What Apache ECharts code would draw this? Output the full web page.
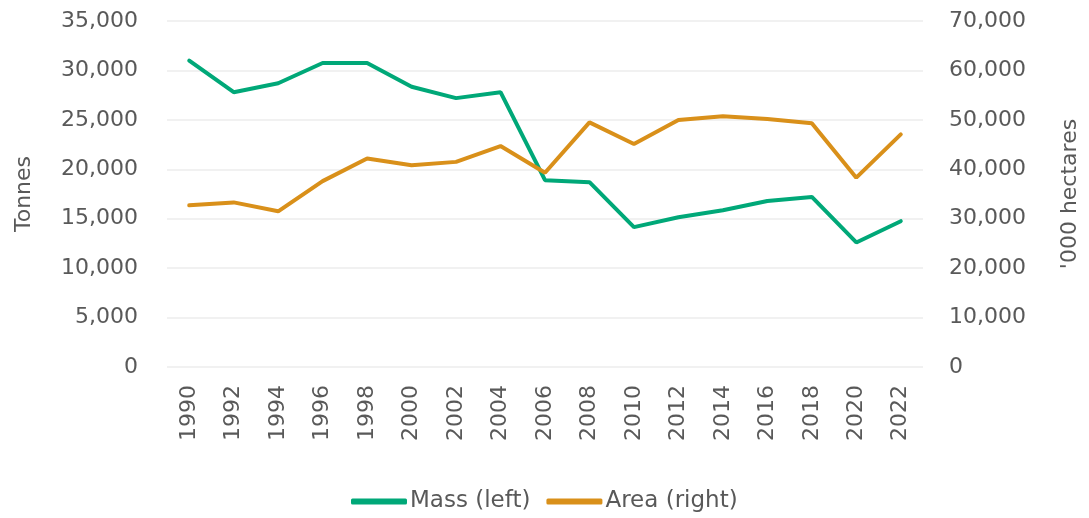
<!DOCTYPE html>
<html>
<head>
<meta charset="utf-8">
<script src="https://cdn.jsdelivr.net/npm/echarts@6/dist/echarts.min.js"></script>
<style>
  html, body { margin: 0; padding: 0; background: #fff; }
  #main { width: 1089px; height: 518px; }
</style>
</head>
<body>
<div id="main"></div>
<script>
// data
var years = ['1990', '1992', '1994', '1996', '1998', '2000', '2002', '2004', '2006',
             '2008', '2010', '2012', '2014', '2016', '2018', '2020', '2022'];
var massLeft = [31000, 27800, 28700, 30750, 30750, 28350, 27200, 27800, 18900,
                18700, 14150, 15150, 15850, 16800, 17200, 12600, 14750];
var areaRight = [32700, 33300, 31500, 37600, 42200, 40800, 41500, 44700, 39300,
                 49500, 45100, 49950, 50750, 50150, 49300, 38300, 47050];
var leftTicks = { min: 0, max: 35000, interval: 5000 };
var rightTicks = { min: 0, max: 70000, interval: 10000 };

var font = '"DejaVu Sans"';
var txt = '#595959';
var fs = 22;

var myChart = echarts.init(document.getElementById('main'));

function fmt(v) { return v.toLocaleString('en-US'); }

var option = {
    animation: false,
    color: ['#00a878', '#d9901a'],
    textStyle: { fontFamily: font },
    grid: { left: 167, right: 162, top: 21, bottom: 151 },
    legend: {
        left: 346,
        top: 485,
        icon: 'roundRect',
        itemWidth: 56,
        itemHeight: 6,
        itemGap: 16,
        textStyle: { fontFamily: font, fontSize: 23, color: txt, padding: [0, 0, 0, -2] },
        data: ['Mass (left)', 'Area (right)']
    },
    xAxis: {
        type: 'category',
        data: years,
        axisLine: { show: false },
        axisTick: { show: false },
        axisLabel: {
            rotate: 90,
            margin: 18,
            interval: 0,
            fontSize: fs,
            color: txt,
            fontFamily: font
        }
    },
    yAxis: [{
        type: 'value',
        min: leftTicks.min,
        max: leftTicks.max,
        interval: leftTicks.interval,
        name: 'Tonnes',
        nameLocation: 'middle',
        nameGap: 132,
        nameTextStyle: { fontSize: fs, color: txt, fontFamily: font },
        axisLabel: { formatter: fmt, margin: 29, fontSize: fs, color: txt, fontFamily: font },
        axisLine: { show: false },
        axisTick: { show: false },
        splitLine: { lineStyle: { color: '#ededed', width: 1.5 } }
    }, {
        type: 'value',
        min: rightTicks.min,
        max: rightTicks.max,
        interval: rightTicks.interval,
        name: "'000 hectares",
        nameLocation: 'middle',
        nameGap: 136,
        nameRotate: 90,
        nameTextStyle: { fontSize: fs, color: txt, fontFamily: font },
        axisLabel: { formatter: fmt, margin: 26, fontSize: fs, color: txt, fontFamily: font },
        axisLine: { show: false },
        axisTick: { show: false },
        splitLine: { show: false }
    }],
    series: [{
        name: 'Mass (left)',
        type: 'line',
        yAxisIndex: 0,
        showSymbol: false,
        symbol: 'none',
        lineStyle: { width: 4, cap: 'round' },
        data: massLeft
    }, {
        name: 'Area (right)',
        type: 'line',
        yAxisIndex: 1,
        showSymbol: false,
        symbol: 'none',
        lineStyle: { width: 4, cap: 'round' },
        data: areaRight
    }]
};

myChart.setOption(option);
</script>
</body>
</html>
